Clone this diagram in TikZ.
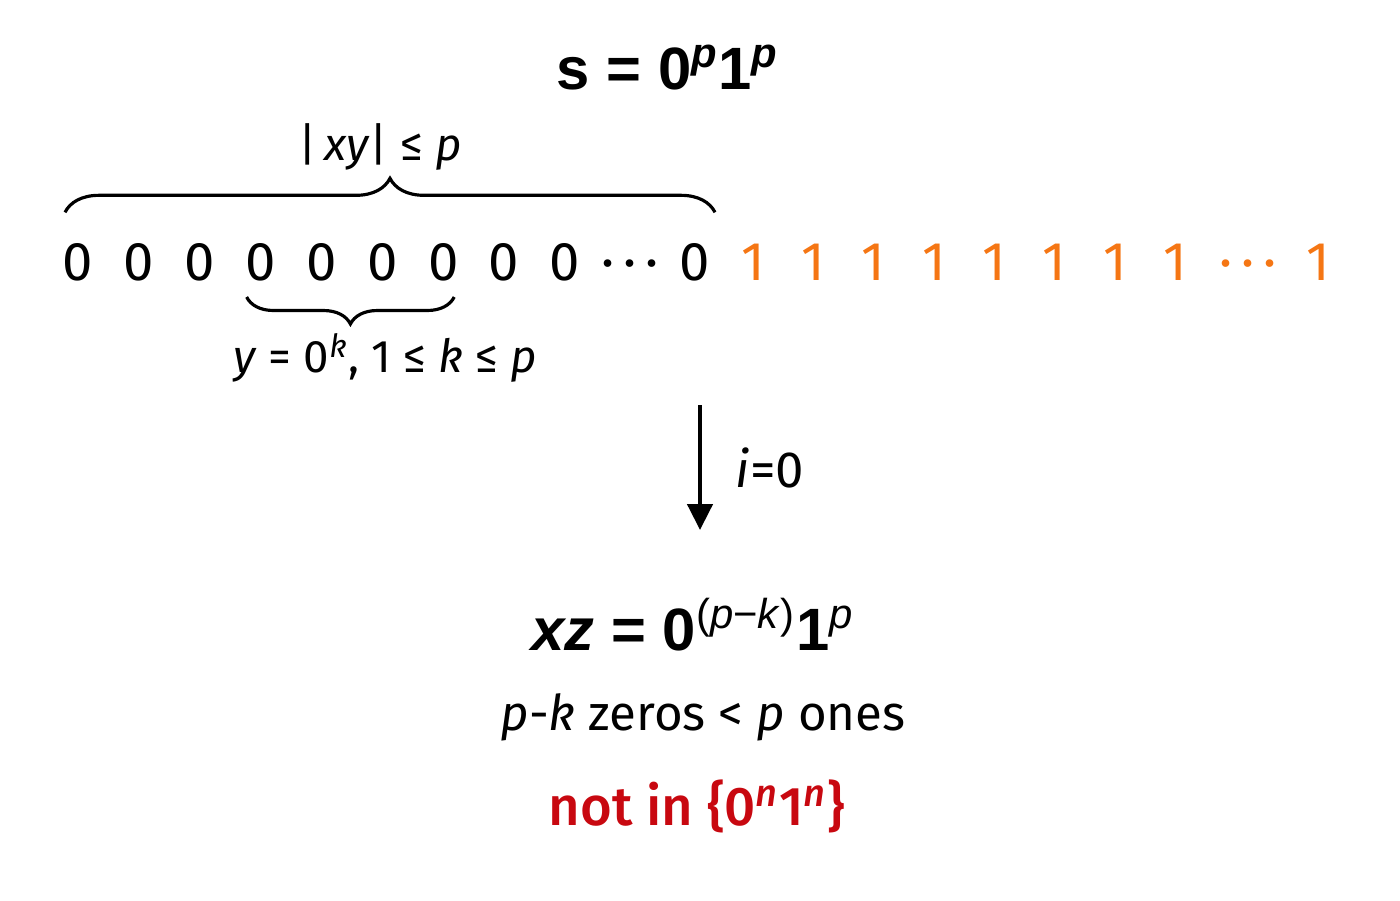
\documentclass[tikz,border=0pt]{standalone}
\usepackage{fontspec}
\setmainfont{Fira Sans}
\newfontfamily\midfont{Fira Sans}[UprightFont={* Medium}, ItalicFont={* Medium Italic}]
\newfontfamily\headfont{Liberation Sans}
\usepackage{xcolor}
\usetikzlibrary{positioning}
\usetikzlibrary{arrows.meta}
\usetikzlibrary{decorations.pathreplacing}
\definecolor{oneorange}{RGB}{245,118,20}
\definecolor{notred}{RGB}{200,8,16}
\newcommand{\ivar}[1]{\textit{#1}}
\newcommand{\up}[1]{\textsuperscript{#1}}

\begin{document}
\begin{tikzpicture}[
  digit/.style={font=\fontsize{15.5}{18}\selectfont, inner sep=0pt, anchor=base},
  onedigit/.style={digit, text=oneorange},
  topbrace/.style={decorate, decoration={brace, amplitude=0.34cm}, line width=0.9pt},
  lowbrace/.style={decorate, decoration={brace, amplitude=0.27cm}, line width=0.9pt},
  label/.style={font=\fontsize{13}{15}\selectfont, inner sep=1pt}
]
\useasboundingbox (0,0) rectangle (14,-9);
% main formula
  \node (title) at (6.68,-0.68) {\headfont\bfseries\fontsize{17}{20}\selectfont s = 0\up{\ivar{p}}1\up{\ivar{p}}};
% the string
  \foreach \i in {1,...,9}
    \node [digit] (z\i) at ({0.78+0.6087*(\i-1)},-2.80) {0};
  \node [digit] (zd) at (6.30,-2.80) {·\,·\,·};
  \node [digit] (zp) at (6.95,-2.80) {0};
  \foreach \i in {1,...,8}
    \node [onedigit] (o\i) at ({7.53+0.603*(\i-1)},-2.80) {1};
  \node [onedigit] (od) at (12.48,-2.80) {·\,·\,·};
  \node [onedigit] (op) at (13.18,-2.80) {1};
% braces
  \draw [topbrace] ([xshift=-1.3mm,yshift=3mm]z1.north) -- ([xshift=2mm,yshift=3mm]zp.north);
  \node [label] (xylen) at (3.80,-1.47) {|\,\ivar{xy}| ≤ \ivar{p}};
  \draw [lowbrace] ([xshift=1.1mm,yshift=-1.7mm]z7.base) -- ([xshift=-1.4mm,yshift=-1.7mm]z4.base);
  \node [label] (ylab) at (3.85,-3.58) {\ivar{y} = 0\up{\ivar{k}}, 1 ≤ \ivar{k} ≤ \ivar{p}};
% pumping down
  \coordinate (arrtop) at (7.00,-4.05);
  \coordinate (arrbot) at (7.00,-5.30);
  \draw [line width=1.3pt, -{Triangle[width=0.25cm,length=0.26cm]}] (arrtop) -- (arrbot);
  \node [label, font=\fontsize{14.5}{17}\selectfont] (ieq) at (7.70,-4.68) {\ivar{i}=0};
% result
  \node (xz) at (6.93,-6.25) {\headfont\bfseries\fontsize{17}{20}\selectfont \ivar{xz} = 0\up{\mdseries(\ivar{p}−\ivar{k})}1\up{\mdseries\ivar{p}}};
  \node (zeros) at (7.03,-7.17) {\fontsize{14}{17}\selectfont \ivar{p}-\ivar{k} zeros < \ivar{p} ones};
  \node (notin) at (6.97,-8.06) {\midfont\fontsize{15.5}{18}\selectfont\color{notred} not in \{0\up{\ivar{n}}1\up{\ivar{n}}\}};
\end{tikzpicture}
\end{document}
